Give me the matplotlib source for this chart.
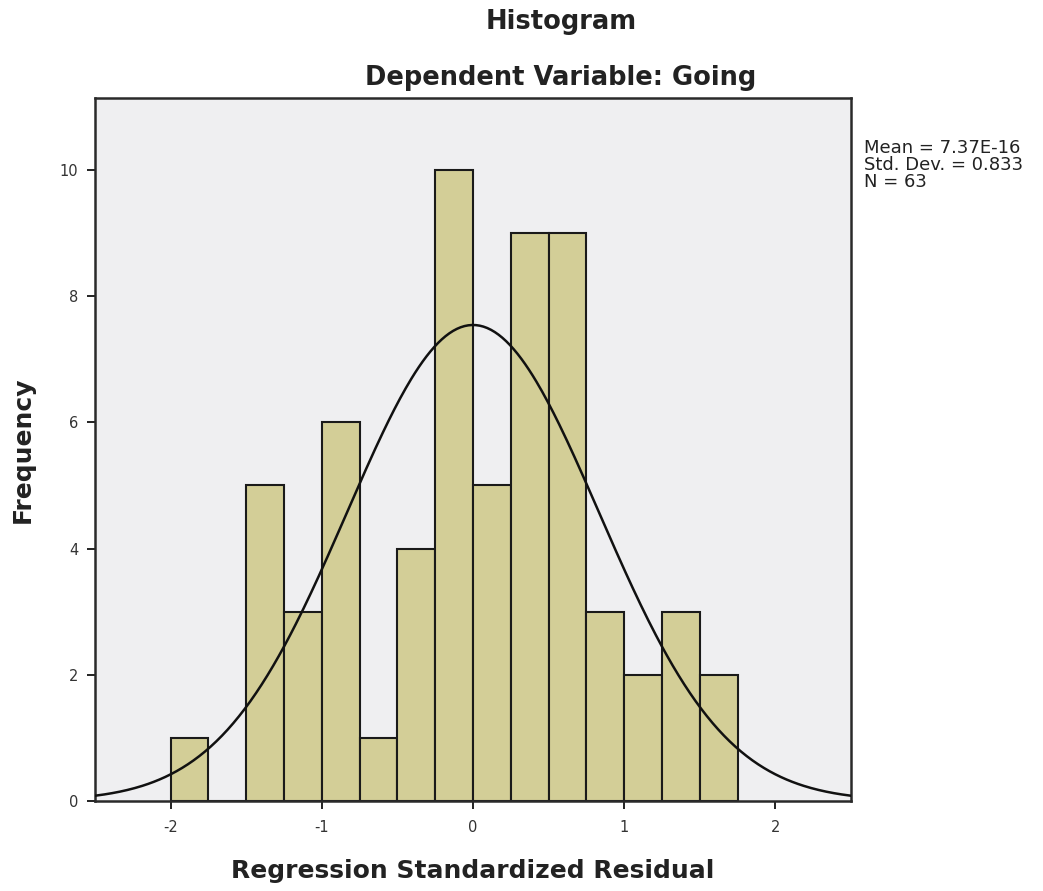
import numpy as np
import matplotlib
matplotlib.use("Agg")
import matplotlib.pyplot as plt

# Histogram of regression standardized residuals (bin width 0.25)
bin_edges = [-2.0, -1.75, -1.5, -1.25, -1.0, -0.75, -0.5, -0.25, 0.0,
             0.25, 0.5, 0.75, 1.0, 1.25, 1.5, 1.75]
counts = [1, 0, 5, 3, 6, 1, 4, 10, 5, 9, 9, 3, 2, 3, 2]
mean = 7.37e-16
std_dev = 0.833
n_obs = 63
x_ticks = [-2, -1, 0, 1, 2]
y_ticks = [0, 2, 4, 6, 8, 10]

fig = plt.figure(figsize=(10.43, 8.91), dpi=100)
ax = fig.add_axes([95 / 1043, 90 / 891, 756 / 1043, 703 / 891])
ax.set_facecolor("#efeff1")

edges = np.array(bin_edges)
widths = np.diff(edges)
ax.bar(edges[:-1], counts, width=widths, align="edge",
       color="#d3ce97", edgecolor="#1a1a1a", linewidth=1.5, zorder=2)

# Normal curve scaled to the histogram
bw = widths[0]
xs = np.linspace(-2.5, 2.5, 400)
ys = n_obs * bw / (std_dev * np.sqrt(2 * np.pi)) * np.exp(-0.5 * ((xs - mean) / std_dev) ** 2)
ax.plot(xs, ys, color="#111111", linewidth=1.8, zorder=3)

ax.set_xlim(-2.5, 2.5)
ax.set_ylim(0, 11.14)
ax.set_xticks(x_ticks)
ax.set_yticks(y_ticks)
ax.set_xticklabels([f"{t}" for t in x_ticks])
ax.tick_params(direction="out", length=6, width=1.4, color="#222222",
               labelsize=10.5, labelcolor="#333333")
ax.tick_params(axis="x", pad=8)
ax.tick_params(axis="y", pad=6)
for s in ax.spines.values():
    s.set_linewidth(1.8)
    s.set_color("#2a2a2a")

ax.set_xlabel("Regression Standardized Residual", fontsize=18,
              fontweight="bold", color="#222222", labelpad=17)
ax.set_ylabel("Frequency", fontsize=18, fontweight="bold",
              color="#222222", labelpad=18)

fig.text(561 / 1043, 1 - 22 / 891, "Histogram", ha="center", va="center",
         fontsize=18.5, fontweight="bold", color="#222222")
fig.text(561 / 1043, 1 - 78 / 891, "Dependent Variable: Going", ha="center",
         va="center", fontsize=18.5, fontweight="bold", color="#222222")

fig.text(864 / 1043, 1 - 139 / 891,
         f"Mean = {mean:.2E}\nStd. Dev. = {std_dev:.3f}\nN = {n_obs}",
         ha="left", va="top", fontsize=13, color="#222222", linespacing=0.93)

fig.savefig("out.png", dpi=100, facecolor="white")
